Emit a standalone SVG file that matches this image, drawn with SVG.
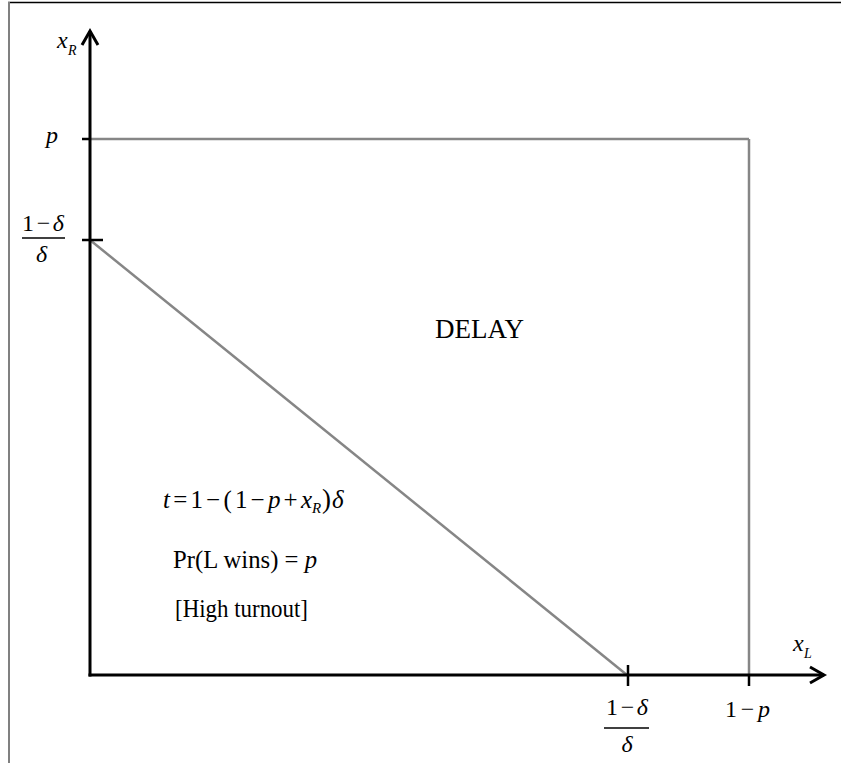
<svg xmlns="http://www.w3.org/2000/svg" width="841" height="763" viewBox="0 0 841 763">
<style>
.ax{stroke:#000;stroke-width:3;fill:none}
.gl{stroke:#868686;stroke-width:2.5;fill:none}
.tk{stroke:#000;stroke-width:2.5}
text{font-family:"Liberation Serif","Times New Roman",serif;fill:#000}
.i{font-style:italic}
.lb{font-size:24px}
.hi{font-size:25px}
</style>
<rect width="841" height="763" fill="#fff"/>
<g id="frame">
<line x1="8" y1="2.5" x2="841" y2="2.5" stroke="#000" stroke-width="1.5"/>
<line x1="9" y1="2" x2="9" y2="763" stroke="#808080" stroke-width="2"/>
</g>
<g id="connectors">
<line class="gl" x1="90" y1="139" x2="749" y2="139"/>
<line class="gl" x1="749" y1="139" x2="749" y2="675"/>
<line class="gl" x1="90" y1="240" x2="627" y2="675"/>
<line class="ax" x1="90" y1="676.5" x2="90" y2="31"/>
<line class="ax" x1="88.5" y1="675" x2="824" y2="675"/>
<polyline class="ax" points="82,45 90,31 98,45"/>
<polyline class="ax" points="810,667 824,675 810,683"/>
<line class="tk" x1="82" y1="139" x2="91" y2="139"/>
<line class="tk" x1="82" y1="240" x2="103" y2="240"/>
<line class="tk" x1="628" y1="665" x2="628" y2="686"/>
<line class="tk" x1="749" y1="675" x2="749" y2="686"/>
</g>
<g id="axis-labels">
<text x="57" y="48" class="lb i">x</text>
<text x="68" y="55" class="i" font-size="14">R</text>
<text x="793" y="651" class="lb i">x</text>
<text x="804" y="658" class="i" font-size="14">L</text>
<text x="46" y="143" class="lb i">p</text>
<text x="22" y="231" class="lb" textLength="42" lengthAdjust="spacing">1−<tspan class="i">δ</tspan></text>
<line x1="22" y1="238" x2="65" y2="238" stroke="#000" stroke-width="1.3"/>
<text x="41.5" y="262" class="lb i" text-anchor="middle">δ</text>
<text x="606" y="715" class="lb" textLength="42" lengthAdjust="spacing">1−<tspan class="i">δ</tspan></text>
<line x1="604" y1="728" x2="649" y2="728" stroke="#000" stroke-width="1.3"/>
<text x="627" y="752" class="lb i" text-anchor="middle">δ</text>
<text x="725" y="717" class="lb" textLength="45" lengthAdjust="spacing">1−<tspan class="i">p</tspan></text>
</g>
<g id="region-delay">
<text x="435" y="338" font-size="27">DELAY</text>
</g>
<g id="region-high">
<text x="163" y="508" class="hi" textLength="149" lengthAdjust="spacing"><tspan class="i">t</tspan>=1−(1−<tspan class="i">p</tspan>+<tspan class="i">x</tspan></text>
<text x="312" y="513" class="i" font-size="15">R</text>
<text x="322" y="508" font-size="27">)</text>
<text x="332" y="508" class="hi i">δ</text>
<text x="173" y="568" class="hi" textLength="144" lengthAdjust="spacingAndGlyphs">Pr(L wins) = <tspan class="i">p</tspan></text>
<text x="175" y="617" class="hi" textLength="133" lengthAdjust="spacingAndGlyphs">[High turnout]</text>
</g>
</svg>
